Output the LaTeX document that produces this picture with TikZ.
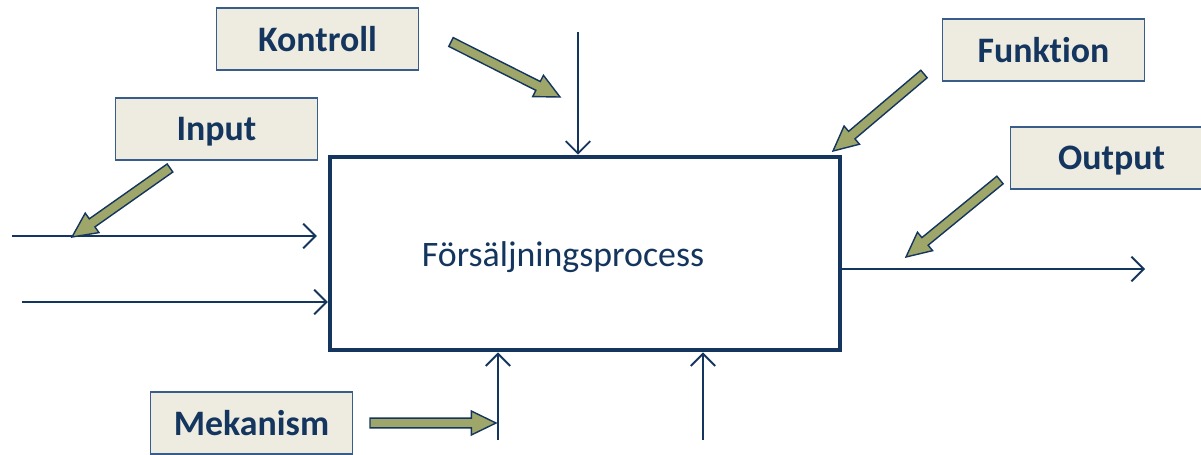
\documentclass[tikz,border=0pt]{standalone}
\usepackage{fontspec}
\setmainfont{Carlito}[Ligatures=NoCommon]
\usetikzlibrary{arrows.meta, positioning, calc}
\definecolor{navy}{HTML}{14355E}
\definecolor{boxline}{HTML}{385D8A}
\definecolor{boxfill}{HTML}{EEECE1}
\definecolor{olive}{HTML}{9EA66A}
\tikzset{
every node/.style={text=navy, font=\fontsize{20.4}{24}\selectfont}, % all texts are navy
tag/.style={draw=boxline, fill=boxfill, line width=0.8pt, minimum width=4.04cm, minimum height=1.24cm, text depth=0pt, font=\fontsize{20.4}{24}\selectfont\bfseries}, % the beige label boxes
procbox/.style={draw=navy, line width=2.6pt, minimum width=10.2cm, minimum height=3.86cm}, % the process itself
flow/.style={draw=navy, line width=1.1pt, -{Straight Barb[length=7pt,width=14pt]}}, % thin arrows into and out of the process
pointer/.style={draw=navy, fill=olive, line width=0.8pt, line join=miter}, % fat olive arrows
}
% fat arrow from #1 (tail) to #2 (tip)
\newcommand{\fatarrow}[2]{%
  \coordinate (hb) at ($(#2)!14pt!(#1)$);
  \filldraw[pointer] ($(#1)!2.8pt!90:(#2)$) -- ($(hb)!2.8pt!90:(#2)$) -- ($(hb)!6.8pt!90:(#2)$) -- (#2)
    -- ($(hb)!6.8pt!-90:(#2)$) -- ($(hb)!2.8pt!-90:(#2)$) -- ($(#1)!2.8pt!-90:(#2)$) -- cycle;
}

\begin{document}
\begin{tikzpicture}[x=0.02cm, y=-0.02cm]
      \useasboundingbox (0,0) rectangle (1201,454);
      \node[procbox, label={[xshift=-0.44cm, yshift=-0.07cm]center:Försäljningsprocess}] (proc) at (585,253.5) {};
      \node[tag] (kontroll) at (317.5,39) {Kontroll};
      \node[tag] (input) at (216.5,129) {Input};
      \node[tag] (funktion) at (1043.5,50) {Funktion};
      \node[tag] (output) at (1111.5,158) {Output};
      \node[tag] (mekanism) at (251.5,423) {Mekanism};
      % free ends of the thin arrows
      \coordinate (ctrl) at (578,32);
      \coordinate (in1) at (12,236);
      \coordinate (in2) at (22,302);
      \coordinate (out) at (1145,269);
      \coordinate (mech1) at (498,440);
      \coordinate (mech2) at (703,440);
      \draw[flow] (ctrl) -- (ctrl |- proc.north);
      \draw[flow, shorten >=0.22cm] (in1) -- (in1 -| proc.west);
      \draw[flow] (in2) -- (in2 -| proc.west);
      \draw[flow] (out -| proc.east) -- (out);
      \draw[flow] (mech1) -- (mech1 |- proc.south);
      \draw[flow] (mech2) -- (mech2 |- proc.south);
      % ends of the fat arrows
      \coordinate (kontrollTail) at (451,42);
      \coordinate (kontrollTip) at (560,97);
      \coordinate (inputTail) at (170,168);
      \coordinate (inputTip) at (72,237);
      \coordinate (funktionTail) at (924,74);
      \coordinate (funktionTip) at (833,151);
      \coordinate (outputTail) at (1000,180);
      \coordinate (outputTip) at (906,257);
      \coordinate (mekanismTail) at (370,423);
      \coordinate (mekanismTip) at (496,423);
      \fatarrow{kontrollTail}{kontrollTip}
      \fatarrow{inputTail}{inputTip}
      \fatarrow{funktionTail}{funktionTip}
      \fatarrow{outputTail}{outputTip}
      \fatarrow{mekanismTail}{mekanismTip}
\end{tikzpicture}
\end{document}
